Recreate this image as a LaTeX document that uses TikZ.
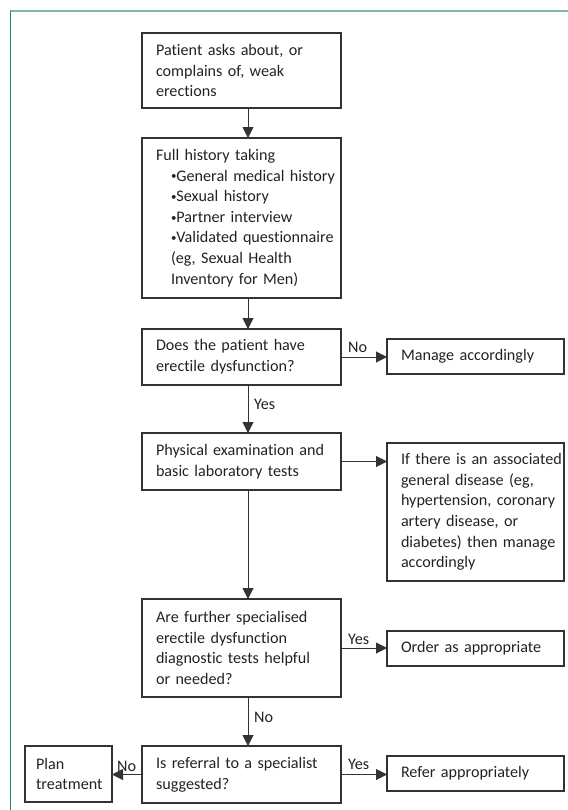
\documentclass[tikz,border=0pt]{standalone}
\usepackage{fontspec}
\setmainfont{Carlito}[Ligatures=NoCommon]
\usetikzlibrary{arrows.meta}
\definecolor{topgreen}{HTML}{7DB99B}
\definecolor{leftgreen}{HTML}{1F8A4C}
\definecolor{boxline}{HTML}{333333}
\definecolor{txt}{HTML}{222222}
\tikzset{
  fbox/.style={draw=boxline, line width=1.1bp, anchor=north west, align=left,
    inner xsep=2bp, inner ysep=0pt, outer sep=0pt, text=txt,
    font=\fontsize{16.2}{20.7}\selectfont,
    execute at begin node={\hyphenpenalty=10000\exhyphenpenalty=10000\leftskip=12bp\relax}},
  arr/.style={draw=boxline, line width=1bp, -{Triangle[length=11bp,width=11bp]}},
  lbl/.style={font=\fontsize{16.2}{20.7}\selectfont, inner sep=0pt, text=txt},
}
\newcommand{\ind}{\hspace*{15bp}}
\newcommand{\bul}{\raisebox{1.2bp}{\fontsize{11}{11}\selectfont•}}
\begin{document}
\begin{tikzpicture}[x=1bp,y=-1bp]
\useasboundingbox (0,0) rectangle (568,810);
\draw[topgreen, line width=1.4bp] (10,11) -- (568,11);
\draw[leftgreen, line width=1.2bp] (10.5,11) -- (10.5,810);
\coordinate (ax) at (248,0);
% boxes
\node[fbox, minimum width=199bp, minimum height=75bp, text width=195bp] (b1) at (142,33)
  {Patient asks about, or\\complains of, weak\\erections};
\node[fbox, minimum width=199bp, minimum height=160bp, text width=195bp] (b2) at (142,138)
  {Full history taking\\\ind\bul General medical history\\\ind\bul Sexual history\\\ind\bul Partner interview\\\ind\bul Validated questionnaire\\\ind(eg, Sexual Health\\\ind Inventory for Men)};
\node[fbox, minimum width=199bp, minimum height=56bp, text width=195bp] (b3) at (142,329)
  {Does the patient have\\erectile dysfunction?};
\node[fbox, minimum width=177bp, minimum height=35bp, text width=173bp] (mg) at (387,339)
  {Manage accordingly};
\node[fbox, minimum width=199bp, minimum height=57bp, text width=195bp] (b4) at (142,433)
  {Physical examination and\\basic laboratory tests};
\node[fbox, minimum width=177bp, minimum height=138bp, text width=173bp] (rb) at (387,443)
  {If there is an associated\\general disease (eg,\\hypertension, coronary\\artery disease, or\\diabetes) then manage\\accordingly};
\node[fbox, minimum width=199bp, minimum height=98bp, text width=195bp] (b5) at (142,599)
  {Are further specialised\\erectile dysfunction\\diagnostic tests helpful\\or needed?};
\node[fbox, minimum width=177bp, minimum height=35bp, text width=173bp] (od) at (387,631)
  {Order as appropriate};
\node[fbox, minimum width=199bp, minimum height=57bp, text width=195bp] (b6) at (142,746)
  {Is referral to a specialist\\suggested?};
\node[fbox, minimum width=177bp, minimum height=35bp, text width=173bp] (rf) at (387,756)
  {Refer appropriately};
\node[fbox, minimum width=87bp, minimum height=56bp, text width=83bp,
  execute at begin node={\leftskip=9bp\relax}] (pl) at (25,746)
  {Plan\\treatment};
% connectors
\draw[arr] (b1.south -| ax) -- (b2.north -| ax);
\draw[arr] (b2.south -| ax) -- (b3.north -| ax);
\draw[arr] (b3.east) -- (mg.west |- b3.east);
\draw[arr] (b3.south -| ax) -- (b4.north -| ax);
\draw[arr] (b4.east) -- (rb.west |- b4.east);
\draw[arr] (b4.south -| ax) -- (b5.north -| ax);
\draw[arr] (b5.east) -- (od.west |- b5.east);
\draw[arr] (b5.south -| ax) -- (b6.north -| ax);
\draw[arr] (b6.east) -- (rf.west |- b6.east);
\draw[arr] (b6.west) -- (pl.east |- b6.west);
% labels
\node[lbl, anchor=base west] (lno1) at (348,352) {No};
\node[lbl, anchor=base west] (lyes1) at (254,409) {Yes};
\node[lbl, anchor=base west] (lyes2) at (348,644) {Yes};
\node[lbl, anchor=base west] (lno2) at (254,722) {No};
\node[lbl, anchor=base west] (lyes3) at (348,769) {Yes};
\node[lbl, anchor=base west] (lno3) at (117,771) {No};
\end{tikzpicture}
\end{document}
